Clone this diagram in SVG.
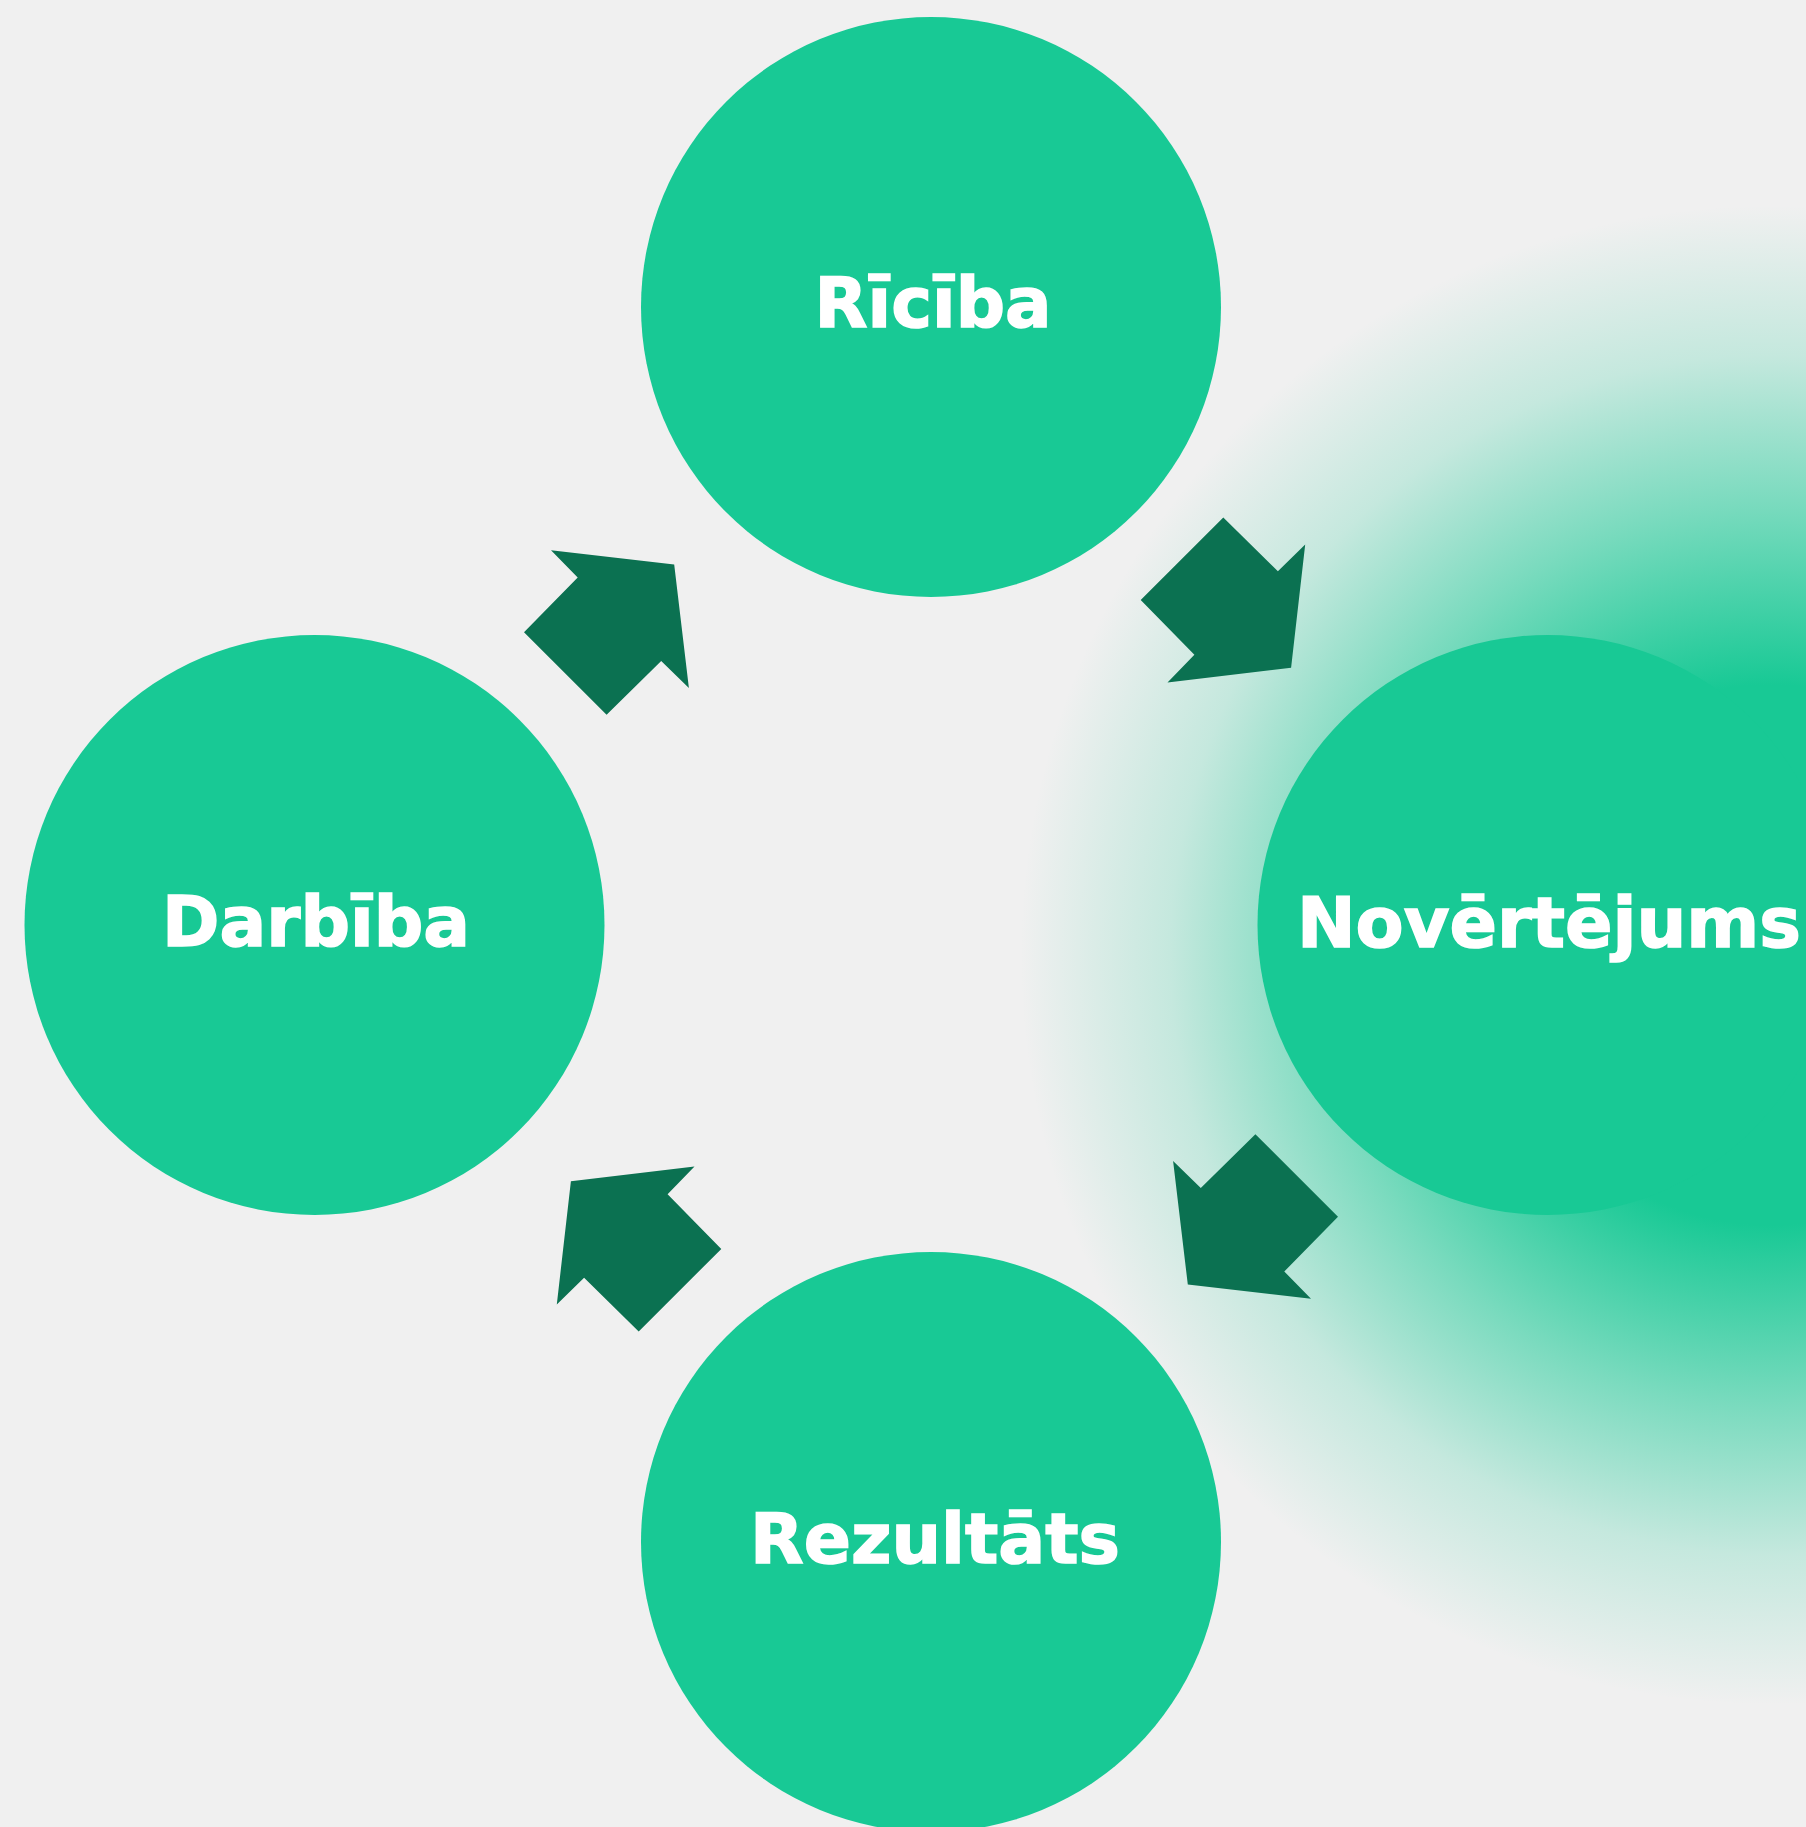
<svg xmlns="http://www.w3.org/2000/svg" xmlns:xlink="http://www.w3.org/1999/xlink" width="1806" height="1827" viewBox="0 0 1806 1827">
  <style>
    .node { fill: #18C995; }
    .label { fill: #FFFFFF; stroke: #FFFFFF; stroke-width: 1.5px; font-family: "DejaVu Sans", "Liberation Sans", sans-serif; font-weight: 700; font-size: 70px; text-anchor: middle; }
    .arrow { fill: #0B7151; }
  </style>
  <defs>
    <radialGradient id="glow" gradientUnits="userSpaceOnUse" cx="1770" cy="955" r="750">
      <stop offset="0" stop-color="#18C995" stop-opacity="1"/>
      <stop offset="0.36" stop-color="#18C995" stop-opacity="1"/>
      <stop offset="0.6" stop-color="#18C995" stop-opacity="0.55"/>
      <stop offset="0.8" stop-color="#18C995" stop-opacity="0.2"/>
      <stop offset="1" stop-color="#18C995" stop-opacity="0"/>
    </radialGradient>
    <path id="arrowShape" d="M551,550.3 L674.2,564.4 L688.9,688 L661.2,661.1 L606.6,714.8 L524,632.2 L577.7,577.6 Z"/>
  </defs>

  <rect x="0" y="0" width="1806" height="1827" fill="#F0F0F0"/>
  <rect x="0" y="0" width="1806" height="1827" fill="url(#glow)"/>

  <g id="connectors">
    <use xlink:href="#arrowShape" class="arrow"/>
    <use xlink:href="#arrowShape" class="arrow" transform="rotate(90 931 924.5)"/>
    <use xlink:href="#arrowShape" class="arrow" transform="rotate(180 931 924.5)"/>
    <use xlink:href="#arrowShape" class="arrow" transform="rotate(270 931 924.5)"/>
  </g>

  <g id="node-riciba">
    <circle class="node" cx="931" cy="307" r="290"/>
    <text class="label" x="933" y="327" textLength="237" lengthAdjust="spacingAndGlyphs">Rīcība</text>
  </g>
  <g id="node-darbiba">
    <circle class="node" cx="314.5" cy="925" r="290"/>
    <text class="label" x="316" y="946" textLength="308" lengthAdjust="spacingAndGlyphs">Darbība</text>
  </g>
  <g id="node-novertejums">
    <circle class="node" cx="1547.5" cy="925" r="290"/>
    <text class="label" x="1549" y="947" textLength="504" lengthAdjust="spacingAndGlyphs">Novērtējums</text>
  </g>
  <g id="node-rezultats">
    <circle class="node" cx="931" cy="1542" r="290"/>
    <text class="label" x="935" y="1563" textLength="370" lengthAdjust="spacingAndGlyphs">Rezultāts</text>
  </g>
</svg>
